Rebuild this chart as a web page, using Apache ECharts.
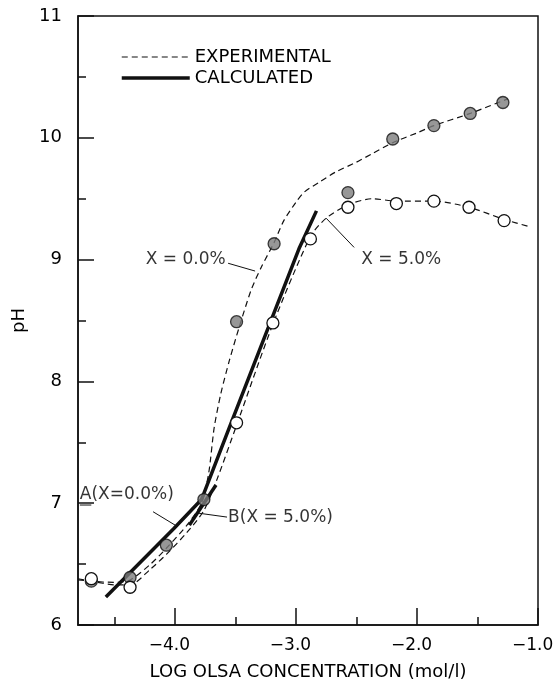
<!DOCTYPE html>
<html>
<head>
<meta charset="utf-8">
<script src="https://cdn.jsdelivr.net/npm/echarts@6/dist/echarts.min.js"></script>
<style>
  html, body { margin: 0; padding: 0; background: #fff; }
  #chart { width: 554px; height: 684px; }
</style>
</head>
<body>
<div id="chart"></div>
<script>
// tick positions
var xMajorTicks = [-4.0, -3.0, -2.0, -1.0];
var xMinorTicks = [-4.5, -3.5, -2.5, -1.5];
var yMajorTicks = [6, 7, 8, 9, 10, 11];
var yMinorTicks = [6.5, 7.5, 8.5, 9.5, 10.5];

// measured points, X = 0.0 % (filled) and X = 5.0 % (open)
var filledX = [-4.69, -4.37, -4.07, -3.76, -3.49, -3.18, -2.57, -2.20, -1.86, -1.56, -1.29];
var filledPH = [6.36, 6.39, 6.655, 7.03, 8.49, 9.13, 9.55, 9.99, 10.10, 10.20, 10.29];
var openX = [-4.69, -4.37, -3.49, -3.19, -2.88, -2.57, -2.17, -1.86, -1.57, -1.28];
var openPH = [6.38, 6.31, 7.66, 8.48, 9.17, 9.43, 9.46, 9.48, 9.43, 9.32];

// experimental curves (dashed)
var exp0X = [-4.80, -4.69, -4.50, -4.37, -4.20, -4.07, -3.90, -3.78, -3.72, -3.675, -3.62, -3.55, -3.47, -3.37, -3.285, -3.18, -3.10, -3.00, -2.93, -2.80, -2.67, -2.50, -2.37, -2.20, -2.00, -1.86, -1.56, -1.25];
var exp0PH = [6.38, 6.36, 6.35, 6.37, 6.50, 6.63, 6.82, 7.00, 7.25, 7.62, 7.90, 8.17, 8.44, 8.75, 8.94, 9.14, 9.32, 9.47, 9.555, 9.64, 9.72, 9.80, 9.87, 9.96, 10.04, 10.10, 10.20, 10.32];
var exp5X = [-4.80, -4.69, -4.50, -4.37, -4.20, -4.07, -3.90, -3.76, -3.65, -3.49, -3.19, -2.88, -2.75, -2.57, -2.37, -2.17, -1.86, -1.57, -1.28, -1.07];
var exp5PH = [6.37, 6.36, 6.33, 6.33, 6.46, 6.58, 6.76, 6.94, 7.20, 7.64, 8.47, 9.19, 9.34, 9.45, 9.50, 9.48, 9.48, 9.43, 9.33, 9.27];

// calculated lines (A: X = 0.0 %, B: X = 5.0 %)
var calcAX = [-4.57, -4.01, -3.78, -3.55, -2.97, -2.83];
var calcAPH = [6.23, 6.79, 7.03, 7.62, 9.10, 9.40];
var calcBX = [-3.88, -3.66];
var calcBPH = [6.82, 7.15];

function pairs(xs, ys) {
  return xs.map(function (x, i) { return [x, ys[i]]; });
}

var ink = '#111';
var font = 'DejaVu Sans';

// text notes and their leader lines, in data coordinates
var notes = [
  { text: 'X = 0.0%', at: [-4.24, 9.0] },
  { text: 'X = 5.0%', at: [-2.46, 9.0] },
  { text: 'A(X=0.0%)', at: [-4.785, 7.07] },
  { text: 'B(X = 5.0%)', at: [-3.56, 6.88] }
];
var leaders = [
  [[-3.56, 8.97], [-3.337, 8.906]],
  [[-2.519, 9.10], [-2.750, 9.34]],
  [[-4.18, 6.93], [-3.998, 6.82]],
  [[-3.569, 6.886], [-3.817, 6.92]],
  [[-4.785, 6.985], [-4.69, 6.985]]
];

var chart = echarts.init(document.getElementById('chart'));

var baseX = { type: 'value', min: -4.8, max: -1.0, splitLine: { show: false } };
var baseY = { type: 'value', min: 6, max: 11, splitLine: { show: false } };

var dashed = { color: ink, width: 1.2, type: [6, 4] };
var thick = { color: ink, width: 3.5 };

var series = [
  {
    name: 'EXPERIMENTAL', type: 'line', data: pairs(exp0X, exp0PH), smooth: 0.25,
    symbol: 'none', itemStyle: { color: ink }, lineStyle: dashed, z: 2
  },
  {
    name: 'EXPERIMENTAL', type: 'line', data: pairs(exp5X, exp5PH), smooth: 0.25,
    symbol: 'none', itemStyle: { color: ink }, lineStyle: dashed, z: 2
  },
  {
    name: 'CALCULATED', type: 'line', data: pairs(calcAX, calcAPH),
    symbol: 'none', itemStyle: { color: ink }, lineStyle: thick, z: 3
  },
  {
    name: 'CALCULATED', type: 'line', data: pairs(calcBX, calcBPH),
    symbol: 'none', itemStyle: { color: ink }, lineStyle: thick, z: 3
  },
  {
    name: 'X = 0.0 %', type: 'scatter', data: pairs(filledX, filledPH), symbolSize: 12,
    itemStyle: { color: '#7d7d7d', borderColor: ink, borderWidth: 1.3 }, z: 4
  },
  {
    name: 'X = 5.0 %', type: 'scatter', data: pairs(openX, openPH), symbolSize: 12,
    itemStyle: { color: '#ffffff', borderColor: ink, borderWidth: 1.3, opacity: 1 }, z: 5
  },
  {
    name: 'notes', type: 'scatter', symbolSize: 0, silent: true,
    data: notes.map(function (n) { return { value: n.at, name: n.text }; }),
    label: {
      show: true, position: 'right', distance: 0, formatter: '{b}',
      color: '#000', fontFamily: font, fontSize: 17
    }, z: 6
  }
];
leaders.forEach(function (seg) {
  series.push({
    name: 'leader', type: 'line', data: seg, symbol: 'none', silent: true,
    itemStyle: { color: ink }, lineStyle: { color: ink, width: 1 }, z: 2
  });
});

chart.setOption({
  animation: false,
  backgroundColor: '#fff',
  textStyle: { fontFamily: font },
  grid: {
    left: 78, right: 16, top: 16, bottom: 59, outerBoundsMode: 'none',
    show: true, borderColor: ink, borderWidth: 1.5, backgroundColor: 'transparent'
  },
  legend: {
    data: [
      { name: 'EXPERIMENTAL', lineStyle: dashed },
      { name: 'CALCULATED', lineStyle: thick }
    ],
    orient: 'vertical', left: 115, top: 43,
    itemWidth: 68, itemHeight: 14, itemGap: 3,
    itemStyle: { color: 'transparent', borderWidth: 0 },
    textStyle: { color: '#000', fontSize: 18, fontFamily: font },
    selectedMode: false
  },
  xAxis: [
    Object.assign({}, baseX, {
      position: 'bottom',
      name: 'LOG OLSA CONCENTRATION (mol/l)', nameLocation: 'middle', nameGap: 38,
      nameTextStyle: { color: '#000', fontSize: 18, fontFamily: font },
      axisLine: { show: true, lineStyle: { color: ink, width: 1.5 } },
      axisTick: { show: true, inside: true, length: 17, customValues: xMajorTicks, lineStyle: { color: ink, width: 1.5 } },
      axisLabel: {
        show: true, customValues: xMajorTicks, margin: 12, color: '#000', fontSize: 17, fontFamily: font,
        // trailing spaces nudge the centred label a little to the left, as in the original
        formatter: function (v) { return v.toFixed(1).replace('-', '\u2212') + '\u00a0\u00a0'; }
      }
    }),
    Object.assign({}, baseX, {
      position: 'bottom',
      axisLine: { show: false },
      axisTick: { show: true, inside: true, length: 8, customValues: xMinorTicks, lineStyle: { color: ink, width: 1.5 } },
      axisLabel: { show: false }
    })
  ],
  yAxis: [
    Object.assign({}, baseY, {
      interval: 1, position: 'left',
      name: 'pH', nameLocation: 'middle', nameGap: 49, nameRotate: 90,
      nameTextStyle: { color: '#000', fontSize: 18, fontFamily: font },
      axisLine: { show: true, lineStyle: { color: ink, width: 1.5 } },
      axisTick: { show: true, inside: true, length: 16, customValues: yMajorTicks, lineStyle: { color: ink, width: 1.5 } },
      axisLabel: { show: true, customValues: yMajorTicks, margin: 16, color: '#000', fontSize: 18, fontFamily: font }
    }),
    Object.assign({}, baseY, {
      position: 'left',
      axisLine: { show: false },
      axisTick: { show: true, inside: true, length: 8, customValues: yMinorTicks, lineStyle: { color: ink, width: 1.5 } },
      axisLabel: { show: false }
    })
  ],
  series: series
});
</script>
</body>
</html>
